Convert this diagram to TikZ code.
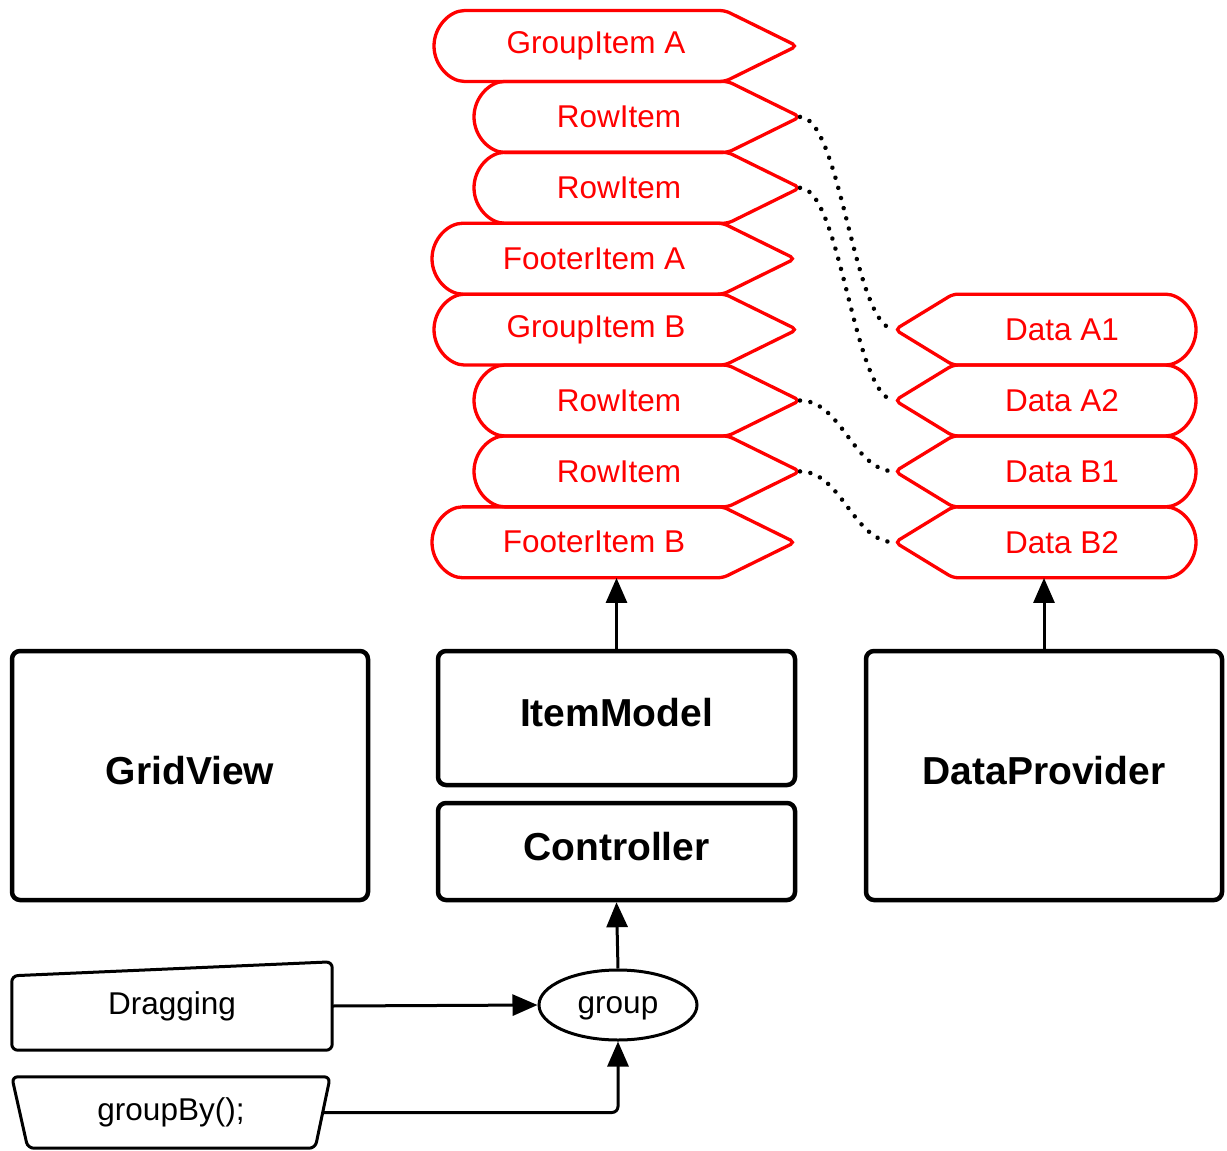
\documentclass[tikz,border=0pt]{standalone}
\usepackage{fontspec}
\setmainfont{Liberation Sans}
\usetikzlibrary{arrows.meta,shapes.geometric,calc}

\tikzset{
  redline/.style={draw=red, line width=3.3pt, rounded corners=5pt},
  redtext/.style={text=red, font=\fontsize{31.5}{36}\selectfont, inner sep=0pt, minimum height=70.9pt},
  box/.style={draw, line width=4.5pt, rounded corners=8pt, font=\bfseries\fontsize{39}{45}\selectfont, text depth=11pt, inner sep=0pt},
  plain/.style={font=\fontsize{31.5}{36}\selectfont, inner sep=0pt},
  arr/.style={line width=3pt, -{Triangle[length=25pt,width=21pt]}},
  dots/.style={line width=4.5pt, dash pattern=on 0.01pt off 10.5pt, line cap=round},
}

% item with a round left end and a pointed right end
% #1 name, #2 left x, #3 tip x, #4 centre y, #5 text x, #6 text
\newcommand\dispL[6]{%
  \draw[redline] (#3-72,#4+35.45) -- (#3,#4) -- (#3-72,#4-35.45) -- (#2+35.45,#4-35.45)
     arc[start angle=270,end angle=90,radius=35.45] -- cycle;
  \node[redtext] (#1) at (#5,#4) {#6};
  \coordinate (#1tip) at (#3,#4);
}
% item with a pointed left end and a round right end
% #1 name, #2 tip x, #3 right x, #4 centre y, #5 text x, #6 text
\newcommand\dataR[6]{%
  \draw[redline] (#2+58,#4+35.45) -- (#3-35.45,#4+35.45)
     arc[start angle=90,end angle=-90,radius=35.45] -- (#2+58,#4-35.45) -- (#2,#4) -- cycle;
  \node[redtext] (#1) at (#5,#4) {#6};
  \coordinate (#1tip) at (#2,#4);
}

\begin{document}
\begin{tikzpicture}[x=1pt,y=1pt]
\useasboundingbox (0,0) rectangle (1227,-1151);

% item list produced by the model
\dispL{ga}{434}{797}{-46}{596}{GroupItem A}
\dispL{ra}{474}{800}{-116.9}{619}{RowItem}
\dispL{rb}{474}{800}{-187.8}{619}{RowItem}
\dispL{fa}{432}{795}{-258.7}{594}{FooterItem A}
\dispL{gb}{434}{797}{-329.6}{596}{GroupItem B}
\dispL{rc}{474}{800}{-400.5}{619}{RowItem}
\dispL{rd}{474}{800}{-471.4}{619}{RowItem}
\dispL{fb}{432}{795}{-542.3}{594}{FooterItem B}

% data records
\dataR{da}{895}{1196}{-329.6}{1062}{Data A1}
\dataR{db}{895}{1196}{-400.5}{1062}{Data A2}
\dataR{dc}{895}{1196}{-471.4}{1062}{Data B1}
\dataR{dd}{895}{1196}{-542.3}{1062}{Data B2}

% row to record links
\draw[dots] (ratip) to[out=0,in=180,looseness=0.45] (datip);
\draw[dots] (rbtip) to[out=0,in=180,looseness=0.45] (dbtip);
\draw[dots] (rctip) to[out=0,in=180,looseness=0.9] (dctip);
\draw[dots] (rdtip) to[out=0,in=180,looseness=0.9] (ddtip);

% components
\node[box, minimum width=356pt, minimum height=249pt] (grid) at (190,-775.5) {GridView};
\node[box, minimum width=357pt, minimum height=134pt] (im) at (616.5,-718) {ItemModel};
\node[box, minimum width=357pt, minimum height=97pt] (ctl) at (616.5,-851.5) {Controller};
\node[box, minimum width=356pt, minimum height=249pt] (dp) at (1044,-775.5) {DataProvider};

% inputs
\node[plain, draw, ellipse, line width=3pt, minimum width=158pt, minimum height=70pt, text height=23pt, text depth=6.5pt] (grp) at (618,-1005) {group};
\node[plain, minimum width=320pt, minimum height=88pt] (drag) at (172,-1006) {Dragging};
\draw[line width=3pt, rounded corners=6pt] (drag.south west) -- ([yshift=-14pt]drag.north west)
   -- (drag.north east) -- (drag.south east) -- cycle;
\node[plain, minimum width=318pt, minimum height=71pt] (gby) at (171,-1112.5) {groupBy();};
\draw[line width=3pt, rounded corners=6pt] (gby.north west) -- (gby.north east)
   -- ([xshift=-15pt]gby.south east) -- ([xshift=16pt]gby.south west) -- cycle;

% flow
\draw[arr] (drag.east) -- (grp.west);
\draw[arr, rounded corners=6pt] ([xshift=-8pt]gby.east) -- (gby.east -| grp.south) -- (grp.south);
\draw[arr] (grp.north) -- (ctl.south);
\draw[arr] (im.north) -- (im.north |- fb.south);
\draw[arr] (dp.north) -- (dp.north |- dd.south);
\end{tikzpicture}
\end{document}
